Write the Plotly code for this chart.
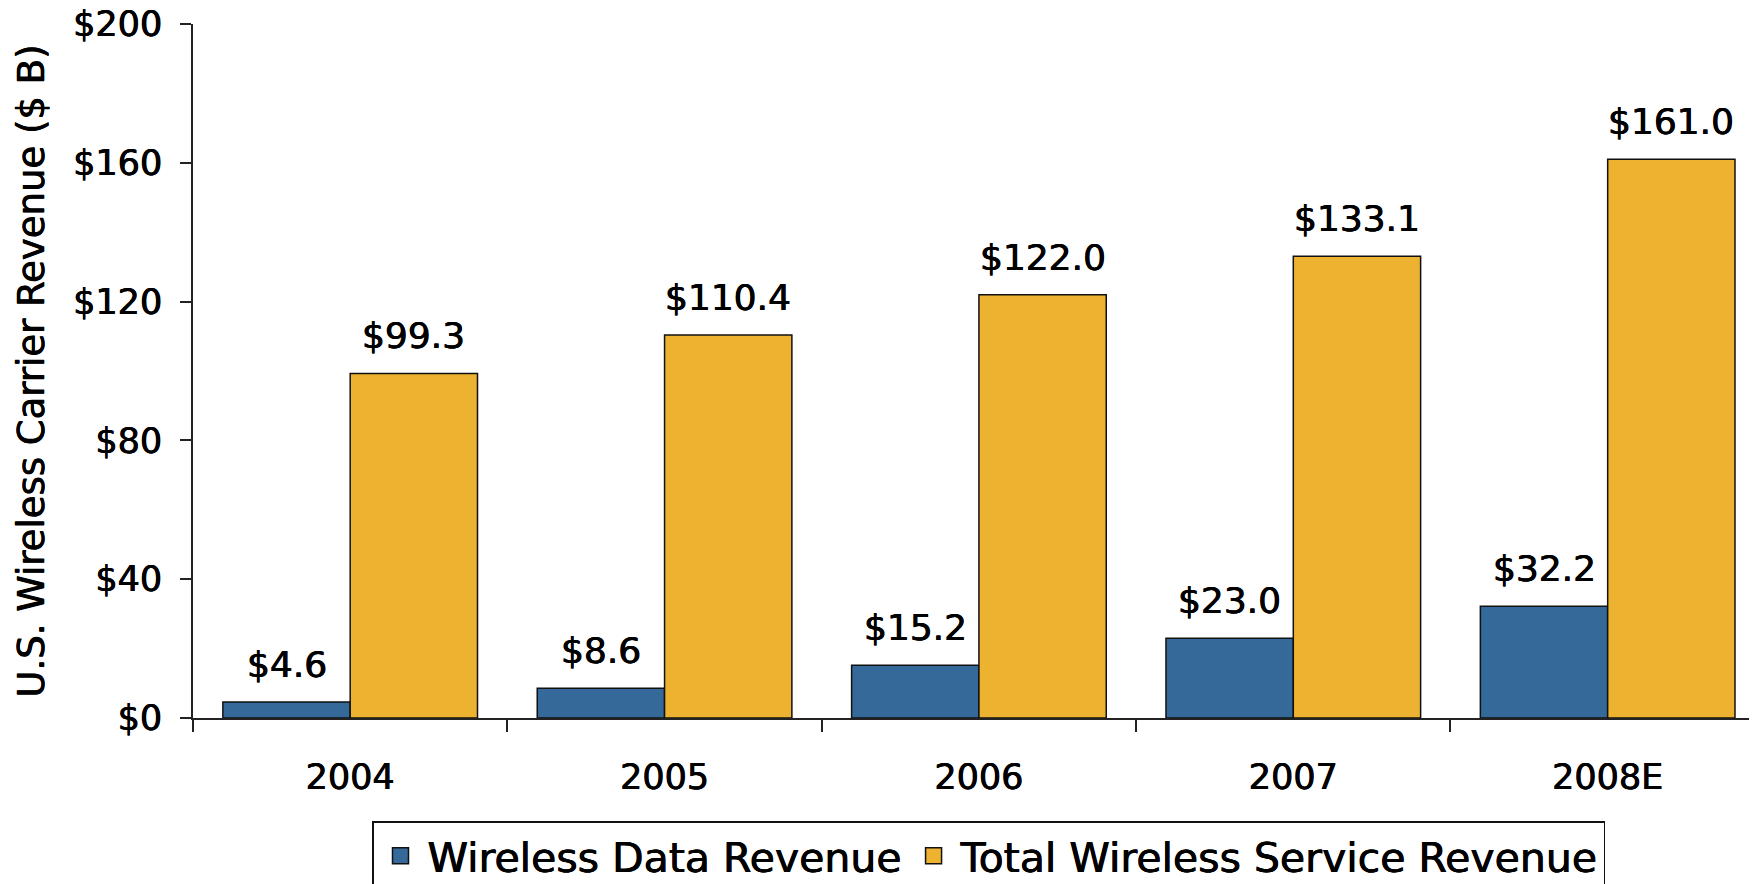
import plotly.graph_objects as go

years = ["2004", "2005", "2006", "2007", "2008E"]
data_rev = [4.6, 8.6, 15.2, 23.0, 32.2]
total_rev = [99.3, 110.4, 122.0, 133.1, 161.0]
y_ticks = [0, 40, 80, 120, 160, 200]
y_tick_labels = ["$0", "$40", "$80", "$120", "$160", "$200"]

series_names = ["Wireless Data Revenue", "Total Wireless Service Revenue"]
colors = ["#34699a", "#edb230"]

FONT = "DejaVu Sans"
SHADOW = "0.4px 0 0 #000, -0.4px 0 0 #000"

# page has an 8px body margin, so the figure sits at (8, 8)
OFF = 8
W, H = 1757 - OFF, 884 - OFF
ML, MR, MT, MB = 193 - OFF, 0, 24 - OFF, 166
PW, PH = W - ML - MR, H - MT - MB


def f(size):
    return dict(family=FONT, size=size, color="#000000", shadow=SHADOW)


fig = go.Figure()
for name, vals, col in zip(series_names, [data_rev, total_rev], colors):
    fig.add_trace(go.Bar(
        x=years, y=vals, name=name, legendgroup=name, showlegend=False,
        marker=dict(color=col, line=dict(color="#111111", width=1.5)),
    ))
# legend entries with larger square swatches
for name, col in zip(series_names, colors):
    fig.add_trace(go.Scatter(
        x=[None], y=[None], mode="markers", name=name, legendgroup=name,
        marker=dict(symbol="square", size=16, color=col,
                    line=dict(color="#111111", width=1.5)),
    ))

# value labels
n = len(series_names)
bargap = 0.19
bw = (1 - bargap) / n
for si, vals in enumerate([data_rev, total_rev]):
    off = -(1 - bargap) / 2 + bw * (si + 0.5)
    for i, v in enumerate(vals):
        fig.add_annotation(
            x=i + off, y=v, xref="x", yref="y",
            text=f"${v:.1f}", showarrow=False,
            yanchor="bottom", yshift=15,
            font=f(36),
        )

fig.update_layout(
    width=W, height=H,
    margin=dict(l=ML, r=MR, t=MT, b=MB, autoexpand=False),
    paper_bgcolor="white", plot_bgcolor="white",
    barmode="group", bargap=bargap, bargroupgap=0,
    font=f(35),
    showlegend=True,
    legend=dict(
        orientation="h", x=(372 - 193) / PW, xanchor="left",
        y=(718 - 821) / PH, yanchor="top",
        bordercolor="#111111", borderwidth=1.5, bgcolor="white",
        font=f(41), itemsizing="trace",
        itemwidth=44, traceorder="normal",
    ),
)
fig.update_xaxes(
    type="category", range=[-0.5, 4.475], automargin=False,
    showline=True, linecolor="#222222", linewidth=1.5,
    ticks="outside", ticklen=12, tickwidth=1.5, tickcolor="#222222",
    tickson="boundaries", showgrid=False, zeroline=False,
    tickfont=f(35), ticklabelstandoff=27, ticklabeloverflow="allow",
)
fig.update_yaxes(
    range=[0, 200], tickvals=y_ticks, ticktext=y_tick_labels, automargin=False,
    showline=True, linecolor="#222222", linewidth=1.5,
    ticks="outside", ticklen=11, tickwidth=1.5, tickcolor="#222222",
    showgrid=False, zeroline=False,
    tickfont=f(35), ticklabelstandoff=11, ticklabeloverflow="allow",
    title=dict(text="U.S. Wireless Carrier Revenue ($ B)",
               font=f(37), standoff=17),
)

fig.write_html("out.html")
